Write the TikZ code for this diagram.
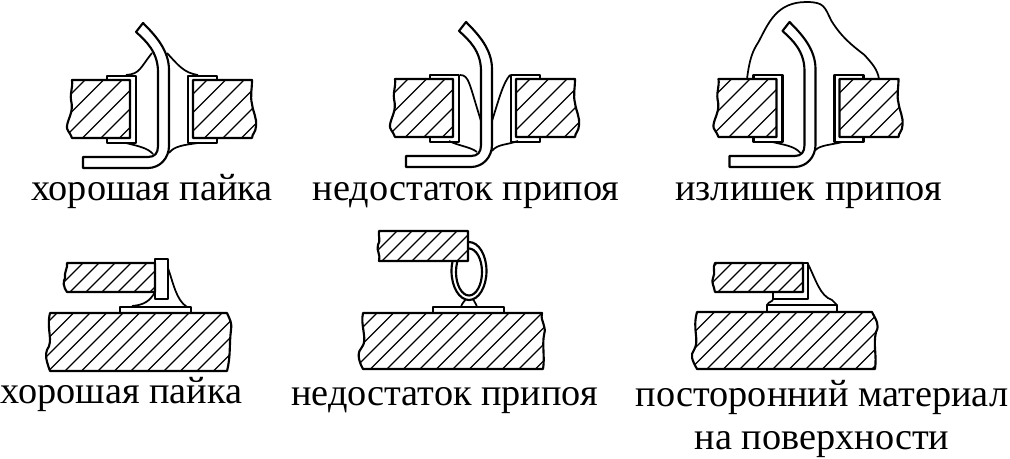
\documentclass[tikz,border=0pt]{standalone}
\usepackage{fontspec}
\setmainfont{Liberation Serif}
\usetikzlibrary{positioning}
\tikzset{
  every picture/.style = {
    x = 0.75pt,
    y = -0.75pt,
    line join = round
  }
  ,
  outline/.style = {
    draw,
    line width = 1.6pt
  }
  ,
  solder/.style = {
    draw,
    line width = 1.3pt
  }
  ,
  hatch/.style = {
    draw,
    line width = 0.9pt
  }
  , % labels under the figures
  caption/.style = {
    anchor = base,
    align = center,
    inner sep = 0pt,
    font = \fontsize{28.7}{33}\selectfont
  }
}
% region, first hatch line, second hatch line
\newcommand{\hatchregion}[3]{
  \begin{scope}
    \clip #1;
    \foreach \hpos in {#2,#3,...,1400} {
      \draw[hatch] (\hpos,0) -- (\hpos-600,600);
    }
  \end{scope}
  \draw[outline] #1;
}
% two cut boards with their sleeves
\newcommand{\throughboards}{
  \hatchregion{(72,80) -- (130,80) -- (130,138) -- (72,138) .. controls (70,132) and (66,130) .. (67,126) .. controls (68,118) and (74,112) .. (71,100) .. controls (70,92) and (73,88) .. (72,80) -- cycle}{165}{183.5}
  \hatchregion{(193,80) -- (252,80) .. controls (252,90) and (250,96) .. (252,104) .. controls (253,112) and (257,118) .. (256,126) .. controls (256,132) and (252,134) .. (252,138) -- (193,138) -- cycle}{287}{305.5}
  \draw[outline] (107,80) -- (107,76) -- (136,76) -- (136,143) -- (107,143) -- (107,138);
  \draw[outline] (217,80) -- (217,76) -- (188,76) -- (188,143) -- (217,143) -- (217,138);
}
% bent lead through the hole
\newcommand{\throughlead}{
  \draw[outline] (143,23) -- (136,32) .. controls (146,41) and (158,52) .. (158,72) -- (158,146) .. controls (158,153) and (155,157) .. (148,157) -- (83,157) -- (83,168) -- (148,168) .. controls (160,168) and (169,158) .. (169,146) -- (169,70) .. controls (169,50) and (155,35) .. (143,23) -- cycle;
}
\begin{document}
\begin{tikzpicture}
  \useasboundingbox (0,0) rectangle (1010,458);

  % top row
  \begin{scope}
    \throughboards
    \throughlead
    \draw[solder] (126,75) .. controls (140,74) and (140,68) .. (152,53);
    \draw[solder] (167,53) .. controls (178,65) and (184,73) .. (198,75);
    \draw[solder] (126,143) .. controls (138,146) and (148,148) .. (153,154);
    \draw[solder] (169,153) .. controls (174,146) and (184,145) .. (198,143);
  \end{scope}
  \begin{scope}[shift={(323,-1)}]
    \throughboards
    \throughlead
    \draw[solder] (137,76) .. controls (146,76) and (146,84) .. (158,122);
    \draw[solder] (169,122) .. controls (176,100) and (180,84) .. (187,76);
    \draw[solder] (126,142) .. controls (136,147) and (148,148) .. (154,153);
    \draw[solder] (169,152) .. controls (174,145) and (184,146) .. (195,142);
  \end{scope}
  \begin{scope}[shift={(646.5,-1)}]
    \throughboards
    \throughlead
    \draw[solder] (100.5,80) .. controls (103,60) and (106,52) .. (112,43) .. controls (122,24) and (130,3) .. (160,3) .. controls (178,3) and (178,8) .. (185,22) .. controls (195,38) and (205,46) .. (218,56) .. controls (225,64) and (231,70) .. (232.5,80);
    \draw[solder] (126,143) .. controls (138,146) and (148,147) .. (154,154);
    \draw[solder] (169,151) .. controls (174,146) and (184,146) .. (196,143);
  \end{scope}

  % bottom left
  \hatchregion{(67,263) -- (155,263) -- (155,292) -- (67,292) .. controls (63,286) and (63,282) .. (65,278) .. controls (64,272) and (68,268) .. (67,263) -- cycle}{330}{346}
  \hatchregion{(50,313) -- (227,313) .. controls (230,320) and (232,322) .. (231,330) .. controls (229,345) and (231,355) .. (227,371) -- (50,371) .. controls (46,360) and (45,355) .. (47,350) .. controls (54,340) and (46,330) .. (50,313) -- cycle}{370}{386.5}
  \draw[outline] (120,313) -- (120,307) -- (191,307) -- (191,313);
  \draw[outline] (155,259) rectangle (168,299);
  \draw[solder] (168,268) .. controls (173,282) and (176,300) .. (187,307);
  \draw[solder] (155,292) .. controls (150,301) and (144,305) .. (132,306);

  % bottom middle
  \draw[outline] (469,271) ellipse [x radius=17.5, y radius=29];
  \draw[outline] (469,272) ellipse [x radius=13, y radius=23.5];
  \fill[white] (379,231) rectangle (468,261);
  \hatchregion{(379,231) -- (468,231) -- (468,261) -- (379,261) .. controls (381,255) and (376,250) .. (378,245) .. controls (381,240) and (378,236) .. (379,231) -- cycle}{628}{643}
  \draw[outline] (433,313) -- (433,307) -- (504,307) -- (504,313);
  \hatchregion{(363,313) -- (542,313) .. controls (540,322) and (547,325) .. (544,335) .. controls (542,345) and (545,358) .. (543,369) -- (363,369) .. controls (358,360) and (357,352) .. (362,347) .. controls (368,340) and (360,325) .. (363,313) -- cycle}{690}{706.5}
  \draw[solder] (461,307) .. controls (462,303) and (464,302) .. (466,299);
  \draw[solder] (477,307) .. controls (476,303) and (474,302) .. (473,299);

  % bottom right
  \hatchregion{(715,263) -- (803,263) -- (803,292) -- (715,292) .. controls (714,286) and (711,282) .. (713,278) .. controls (716,272) and (712,268) .. (715,263) -- cycle}{980}{995}
  \hatchregion{(697,312) -- (872,312) .. controls (876,320) and (880,325) .. (876,332) .. controls (873,345) and (877,355) .. (875,369) -- (697,369) .. controls (692,360) and (690,355) .. (694,350) .. controls (700,340) and (692,330) .. (697,312) -- cycle}{1010}{1026.5}
  \draw[outline] (767,312) -- (767,305) -- (837,305) -- (837,312);
  \draw[outline] (803,263) -- (808,263) -- (808,299) -- (773,299) -- (773,292);
  \draw[solder] (773,299) .. controls (773,302) and (769,301) .. (767,305);
  \draw[solder] (808,264) .. controls (816,280) and (820,296) .. (832,300) -- (837,305);

  % labels
  \node[caption] at (152,200) (good-top) {хорошая пайка};
  \node[caption] at (466,200) (lack-top) {недостаток припоя};
  \node[caption] at (808.5,200) (excess-top) {излишек припоя};
  \node[caption] at (121.5,403) (good-bottom) {хорошая пайка};
  \node[caption] at (444.5,405) (lack-bottom) {недостаток припоя};
  \node[caption] at (822,406) (foreign-line) {посторонний материал};
  \node[caption] at (822,449) (foreign-surface) {на поверхности};
\end{tikzpicture}
\end{document}
